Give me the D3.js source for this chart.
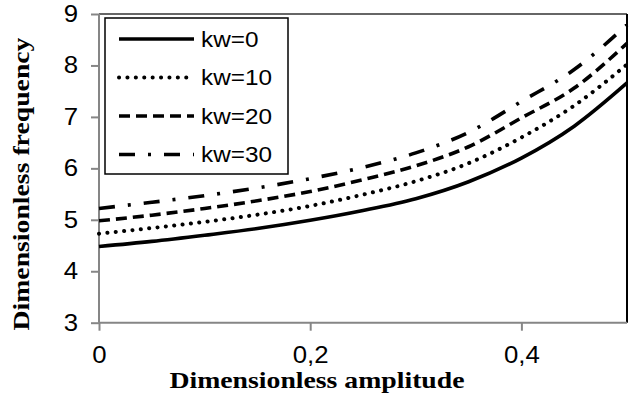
<!DOCTYPE html>
<html>
<head>
<meta charset="utf-8">
<script src="https://cdn.jsdelivr.net/npm/d3@7"></script>
<style>
  body { margin: 0; background: #fff; }
  svg { display: block; }
</style>
</head>
<body>
<div id="chart"></div>
<script>
// amplitude values (x)
var amplitude = [0, 0.05, 0.1, 0.15, 0.2, 0.25, 0.3, 0.35, 0.4, 0.45, 0.5];
// dimensionless frequency for each kw
var kw0  = [4.48, 4.58, 4.70, 4.83, 4.99, 5.18, 5.41, 5.74, 6.20, 6.82, 7.66];
var kw10 = [4.73, 4.84, 4.96, 5.10, 5.27, 5.49, 5.75, 6.10, 6.60, 7.22, 8.02];
var kw20 = [4.98, 5.09, 5.22, 5.37, 5.55, 5.78, 6.05, 6.42, 6.98, 7.56, 8.43];
var kw30 = [5.22, 5.34, 5.47, 5.62, 5.80, 6.02, 6.30, 6.70, 7.30, 7.92, 8.79];
var seriesNames = ["kw=0", "kw=10", "kw=20", "kw=30"];
var xTicks = [0, 0.2, 0.4];
var yTicks = [3, 4, 5, 6, 7, 8, 9];

var dashes = [null, "0.1,8.3", "11,6", "16,13,3,13"];
var caps = ["butt", "round", "butt", "butt"];
var widths = [3.6, 4, 3.6, 3.6];

var width = 632, height = 399;
var plotLeft = 99, plotRight = 627, plotTop = 14, plotBottom = 322.7;

var svg = d3.select("#chart").append("svg")
    .attr("width", width)
    .attr("height", height);

var x = d3.scaleLinear().domain([0, 0.5]).range([plotLeft, plotRight]);
var y = d3.scaleLinear().domain([3, 9]).range([plotBottom, plotTop]);

// stretch text horizontally a bit, the source fonts run wide
function stretch(sel, k) {
    sel.each(function () {
        var w = this.getComputedTextLength();
        d3.select(this).attr("textLength", w * k).attr("lengthAdjust", "spacingAndGlyphs");
    });
}

// plot border top/right
svg.append("line").attr("x1", plotLeft).attr("x2", plotRight).attr("y1", plotTop).attr("y2", plotTop)
    .attr("stroke", "#333").attr("stroke-width", 1.5);
svg.append("line").attr("x1", plotRight).attr("x2", plotRight).attr("y1", plotTop).attr("y2", plotBottom)
    .attr("stroke", "#000").attr("stroke-width", 2);

// axes
var xAxis = d3.axisBottom(x).tickValues(xTicks).tickSize(8)
    .tickFormat(function (d) { return d3.format("")(d).replace(".", ","); });
var yAxis = d3.axisLeft(y).tickValues(yTicks).tickSize(8).tickFormat(d3.format("d"));

var gx = svg.append("g").attr("transform", "translate(0," + plotBottom + ")").call(xAxis);
var gy = svg.append("g").attr("transform", "translate(" + plotLeft + ",0)").call(yAxis);

[gx, gy].forEach(function (g) {
    g.select(".domain").attr("stroke", "#868686").attr("stroke-width", 2);
    g.selectAll(".tick line").attr("stroke", "#868686").attr("stroke-width", 2);
    g.selectAll(".tick text")
        .attr("fill", "#000")
        .style("font-family", "'Liberation Sans', Arial, sans-serif")
        .style("font-size", "23px");
});
gx.select(".domain").attr("d", "M" + plotLeft + ",0H" + plotRight);
gy.select(".domain").attr("d", "M0," + plotTop + "V" + plotBottom);
gx.selectAll(".tick text").attr("y", 40.5).attr("dy", 0);
gy.selectAll(".tick text").attr("x", -21);
stretch(gx.selectAll(".tick text"), 1.12);
stretch(gy.selectAll(".tick text"), 1.12);

// lines
var allSeries = [kw0, kw10, kw20, kw30];
var line = d3.line()
    .x(function (d, i) { return x(amplitude[i]); })
    .y(function (d) { return y(d); })
    .curve(d3.curveMonotoneX);

svg.append("g").selectAll("path").data(allSeries).enter()
    .append("path")
    .attr("d", line)
    .attr("fill", "none")
    .attr("stroke", "#000")
    .attr("stroke-width", function (d, i) { return widths[i]; })
    .attr("stroke-dasharray", function (d, i) { return dashes[i]; })
    .attr("stroke-linecap", function (d, i) { return caps[i]; });

// legend
var legend = svg.append("g");
legend.append("rect")
    .attr("x", 105).attr("y", 18)
    .attr("width", 183).attr("height", 156)
    .attr("fill", "#fff").attr("stroke", "#000").attr("stroke-width", 1.5);

var rows = legend.selectAll("g.row").data(seriesNames).enter()
    .append("g").attr("class", "row")
    .attr("transform", function (d, i) { return "translate(0," + (39 + i * 38.5) + ")"; });

rows.append("line")
    .attr("x1", 119).attr("x2", 194)
    .attr("stroke", "#000")
    .attr("stroke-width", function (d, i) { return widths[i]; })
    .attr("stroke-dasharray", function (d, i) { return dashes[i]; })
    .attr("stroke-linecap", function (d, i) { return caps[i]; });

var labels = rows.append("text")
    .attr("x", 201).attr("y", 7.5)
    .style("font-family", "'Liberation Sans', Arial, sans-serif")
    .style("font-size", "21.5px")
    .text(function (d) { return d; });
stretch(labels, 1.13);

// axis titles
var xt = svg.append("text")
    .attr("x", 317).attr("y", 388)
    .attr("text-anchor", "middle")
    .style("font-family", "'Liberation Serif', 'Times New Roman', serif")
    .style("font-weight", "bold")
    .style("font-size", "23.5px")
    .text("Dimensionless amplitude");
stretch(xt, 1.18);

var yt = svg.append("text")
    .attr("transform", "translate(29,184) rotate(-90)")
    .attr("text-anchor", "middle")
    .style("font-family", "'Liberation Serif', 'Times New Roman', serif")
    .style("font-weight", "bold")
    .style("font-size", "23.5px")
    .text("Dimensionless frequency");
stretch(yt, 1.18);
</script>
</body>
</html>
